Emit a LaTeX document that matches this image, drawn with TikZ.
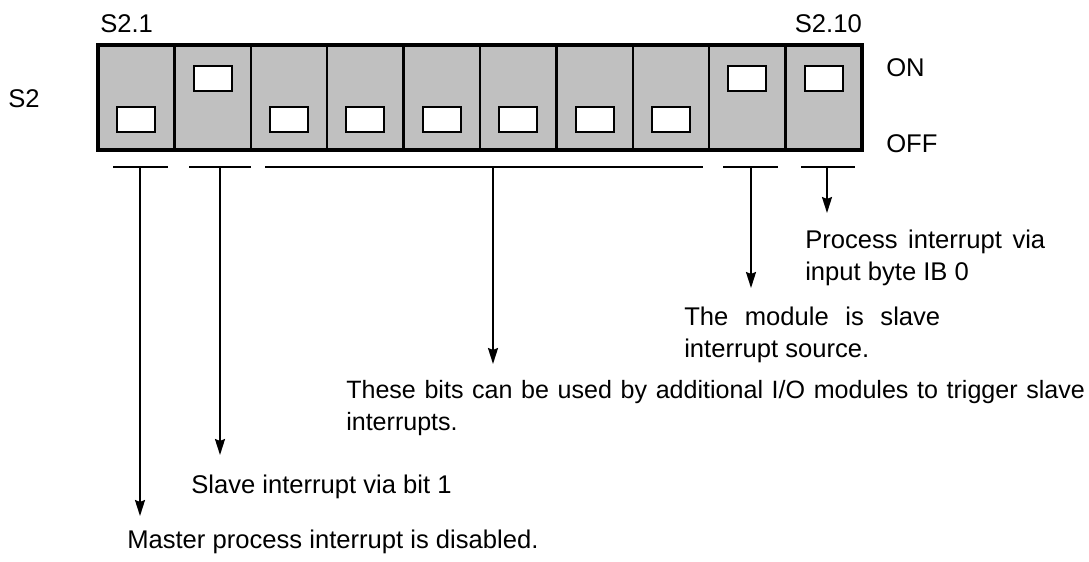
\documentclass[tikz,border=0pt]{standalone}
\usepackage{fontspec}
\setmainfont{Liberation Sans}
\usetikzlibrary{arrows.meta,positioning}
\definecolor{swgray}{RGB}{192,192,192}

\begin{document}
\begin{tikzpicture}[
    x=0.75pt, y=-0.75pt,
    every node/.style={font=\fontsize{19.2}{24.4}\selectfont},
    cell/.style={draw, line width=1.9pt, fill=swgray, minimum width=57.3pt, minimum height=78.75pt, inner sep=0pt, outer sep=0pt},
    lever/.style={draw, line width=1.5pt, fill=white, minimum width=28.5pt, minimum height=18.75pt, inner sep=0pt, outer sep=0pt},
    lbl/.style={inner sep=0pt, anchor=base west},
    note/.style={inner sep=0pt, anchor=base west, align=justify,
      execute at begin node={\hyphenpenalty=10000 \tolerance=10000}},
    brk/.style={line width=1.5pt},
    arr/.style={-{Stealth[length=12pt,width=7.5pt,inset=1.5pt]}, line width=1.5pt}
]
\useasboundingbox (0,0) rectangle (1089,561);

% --- Switch block S2 ---
\node[cell] (cell1) at (136.2,97.5) {};
\foreach \i [count=\j from 1] in {2,...,10}
  \node[cell, right=0pt of cell\j] (cell\i) {};
\draw[line width=2.3pt] (cell1.north west) rectangle (cell10.south east);

% --- Levers (on = top, off = bottom) ---
\foreach \i/\state in {1/off,2/on,3/off,4/off,5/off,6/off,7/off,8/off,9/on,10/on}{
  \ifnum\pdfstrcmp{\state}{on}=0
    \node[lever, below=15.75pt of cell\i.north] (sw\i) {};
  \else
    \node[lever, above=13.5pt of cell\i.south] (sw\i) {};
  \fi
}

% --- Labels ---
\node[lbl] (first) at (100,32) {S2.1};
\node[lbl, anchor=base east] (last) at (862,32) {S2.10};
\node[lbl] (name) at (8,107) {S2};
\node[lbl] (on) at (886,76) {ON};
\node[lbl] (off) at (886,152) {OFF};

% --- Brackets under the switches ---
\draw[brk] (113,167) -- (168,167);
\draw[brk] (189,167) -- (251,167);
\draw[brk] (265,167) -- (703,167);
\draw[brk] (723,167) -- (778,167);
\draw[brk] (801,167) -- (855,167);

\coordinate (top1) at (140,167);  \coordinate (tip1) at (140,516);
\coordinate (top2) at (220,167);  \coordinate (tip2) at (220,455);
\coordinate (top3) at (493,167);  \coordinate (tip3) at (493,364);
\coordinate (top4) at (751,167);  \coordinate (tip4) at (751,288);
\coordinate (top5) at (827,167);  \coordinate (tip5) at (827,213);

% --- Descriptions ---
\node[note, text width=180pt] (txt5) at (805,248) {Process interrupt via input byte IB 0};
\node[note, text width=192pt] (txt4) at (684,325) {The module is slave interrupt source.};
\node[note, text width=554pt, font=\fontsize{18.8}{24.4}\selectfont] (txt3) at (346,398) {These bits can be used by additional I/O modules to trigger slave interrupts.};
\node[lbl] (txt2) at (191,493) {Slave interrupt via bit 1};
\node[lbl] (txt1) at (127,548) {Master process interrupt is disabled.};

\draw[arr] (top1) -- (tip1);
\draw[arr] (top2) -- (tip2);
\draw[arr] (top3) -- (tip3);
\draw[arr] (top4) -- (tip4);
\draw[arr] (top5) -- (tip5);
\end{tikzpicture}
\end{document}
